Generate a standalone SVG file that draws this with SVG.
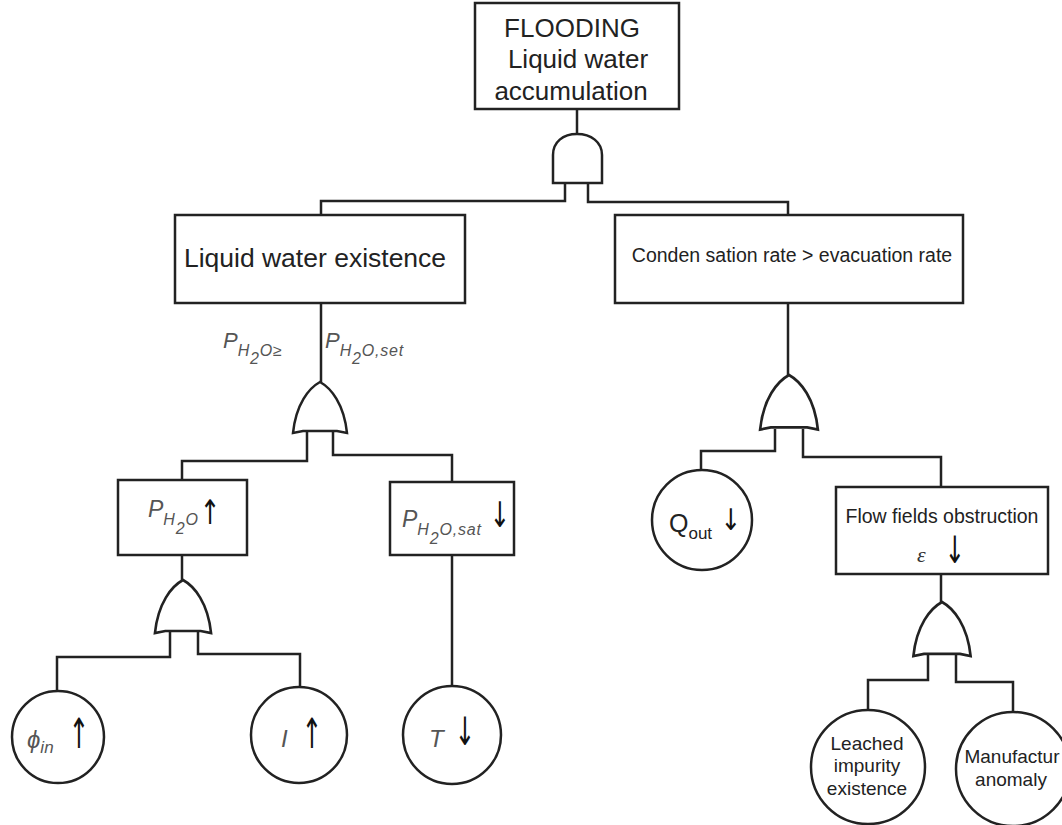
<svg xmlns="http://www.w3.org/2000/svg" xmlns:xlink="http://www.w3.org/1999/xlink" width="1062" height="825" viewBox="0 0 1062 825">
  <style>
    .ln { fill: none; stroke: #222; stroke-width: 2.5; stroke-linejoin: miter; }
    .bx { fill: #fff; stroke: #222; stroke-width: 2.5; }
    .gt { fill: #fff; stroke: #222; stroke-width: 2.5; vector-effect: non-scaling-stroke; }
    .t { font-family: "Liberation Sans", Arial, sans-serif; fill: #222; }
    .pv { font-family: "Liberation Sans", Arial, sans-serif; font-style: italic; fill: #555; }
    .sb { font-size: 16px; letter-spacing: 0.8px; }
    .ar { font-family: "DejaVu Sans", sans-serif; font-size: 27px; fill: #111; text-anchor: middle; }
    .gr { font-family: "Liberation Serif", "Times New Roman", serif; font-style: italic; fill: #333; }
  </style>
  <defs>
    <!-- OR gate, apex at origin -->
    <path id="orGate" d="M0,0 C-11,6 -24,22 -27,51 L-17,49 L17,49 L27,51 C24,22 11,6 0,0 Z"/>
  </defs>
  <rect width="1062" height="825" fill="#fff"/>

  <!-- connectors -->
  <g id="connectors" class="ln">
    <path d="M577,109 L577,134"/>
    <path d="M565,183 L565,201 L321,201 L321,215"/>
    <path d="M588,183 L588,202 L788,202 L788,215"/>
    <path d="M321,303 L321,382"/>
    <path d="M307,432 L307,461 L182,461 L182,480"/>
    <path d="M333,432 L333,455 L452,455 L452,482"/>
    <path d="M182,555 L182,580"/>
    <path d="M452,555 L452,686"/>
    <path d="M170,632 L170,657 L57,657 L57,691"/>
    <path d="M198,632 L198,654 L300,654 L300,687"/>
    <path d="M788,303 L788,375"/>
    <path d="M775,429 L775,451 L701,451 L701,470"/>
    <path d="M803,429 L803,457 L941,457 L941,487"/>
    <path d="M941,574 L941,602"/>
    <path d="M928,654 L928,680 L868,680 L868,710"/>
    <path d="M956,654 L956,682 L1013,682 L1013,712"/>
  </g>

  <!-- gates -->
  <g id="gates">
    <path id="gate-and-top" class="gt" d="M553,183 L553,155 C553,142 563,134 577,134 C591,134 602,142 602,155 L602,183 Z"/>
    <use id="gate-or-water" xlink:href="#orGate" href="#orGate" class="gt" transform="translate(320,382)"/>
    <use id="gate-or-ph2o" xlink:href="#orGate" href="#orGate" class="gt" transform="translate(183,580) scale(1.04)"/>
    <use id="gate-or-rate" xlink:href="#orGate" href="#orGate" class="gt" transform="translate(789,375) scale(1.07)"/>
    <use id="gate-or-flow" xlink:href="#orGate" href="#orGate" class="gt" transform="translate(942,602) scale(1.06)"/>
  </g>

  <!-- top event -->
  <g id="node-flooding">
    <rect class="bx" x="475" y="3" width="204" height="106"/>
    <text class="t" font-size="26" text-anchor="middle" x="572" y="37">FLOODING</text>
    <text class="t" font-size="26" text-anchor="middle" x="578" y="68">Liquid water</text>
    <text class="t" font-size="26" text-anchor="middle" x="571" y="100">accumulation</text>
  </g>

  <g id="node-liquid-water">
    <rect class="bx" x="175" y="215" width="290" height="88"/>
    <text class="t" font-size="26.5" text-anchor="middle" x="315" y="267">Liquid water existence</text>
  </g>

  <g id="node-condensation">
    <rect class="bx" x="615" y="215" width="348" height="88"/>
    <text class="t" font-size="19.5" text-anchor="middle" x="792" y="262">Conden sation rate &gt; evacuation rate</text>
  </g>

  <!-- condition labels on the OR input -->
  <g id="label-condition">
    <text class="pv" font-size="22" x="223" y="348">P<tspan class="sb" dy="8">H</tspan><tspan class="sb" font-size="15" dy="8">2</tspan><tspan class="sb" dy="-8">O≥</tspan></text>
    <text class="pv" font-size="22" x="325" y="348">P<tspan class="sb" dy="8">H</tspan><tspan class="sb" font-size="15" dy="8">2</tspan><tspan class="sb" dy="-8">O,set</tspan></text>
  </g>

  <g id="node-ph2o-up">
    <rect class="bx" x="118" y="480" width="129" height="75"/>
    <text class="pv" font-size="23" x="148" y="517">P<tspan class="sb" dy="8">H</tspan><tspan class="sb" font-size="15" dy="9">2</tspan><tspan class="sb" dy="-9">O</tspan></text>
    <text class="ar" transform="translate(210,524) scale(0.9,1.25)">↑</text>
  </g>

  <g id="node-ph2o-sat">
    <rect class="bx" x="390" y="482" width="124" height="73"/>
    <text class="pv" font-size="23" x="402" y="527">P<tspan class="sb" dy="8">H</tspan><tspan class="sb" font-size="15" dy="9">2</tspan><tspan class="sb" dy="-9">O,sat</tspan></text>
    <text class="ar" transform="translate(500,527) scale(0.9,1.3)">↓</text>
  </g>

  <g id="node-phi-in">
    <circle class="bx" cx="58" cy="737" r="46"/>
    <text class="pv" font-size="24" x="27" y="748">ϕ<tspan font-size="17" dy="5">in</tspan></text>
    <text class="ar" transform="translate(79,748) scale(0.9,1.55)">↑</text>
  </g>

  <g id="node-current">
    <circle class="bx" cx="299" cy="735" r="48"/>
    <text class="pv" font-size="24" fill="#333" x="281" y="747">I</text>
    <text class="ar" transform="translate(312,748) scale(0.9,1.55)">↑</text>
  </g>

  <g id="node-temperature">
    <circle class="bx" cx="452" cy="735" r="49"/>
    <text class="pv" font-size="24" fill="#333" x="429" y="747">T</text>
    <text class="ar" transform="translate(465,745) scale(0.9,1.45)">↓</text>
  </g>

  <g id="node-qout">
    <circle class="bx" cx="702" cy="520" r="50"/>
    <text class="t" font-size="25" x="669" y="532">Q<tspan font-size="17" dy="7">out</tspan></text>
    <text class="ar" transform="translate(731,530) scale(0.9,1.1)">↓</text>
  </g>

  <g id="node-flow-fields">
    <rect class="bx" x="836" y="487" width="212" height="87"/>
    <text class="t" font-size="19.5" text-anchor="middle" x="942" y="523">Flow fields obstruction</text>
    <text class="gr" font-size="22" x="917" y="562">ε</text>
    <text class="ar" transform="translate(955,563) scale(0.9,1.4)">↓</text>
  </g>

  <g id="node-leached">
    <circle class="bx" cx="868" cy="767" r="57"/>
    <text class="t" font-size="19" text-anchor="middle" x="867" y="750">Leached</text>
    <text class="t" font-size="19" text-anchor="middle" x="867" y="772">impurity</text>
    <text class="t" font-size="19" text-anchor="middle" x="867" y="795">existence</text>
  </g>

  <g id="node-manufacturing">
    <circle class="bx" cx="1013" cy="769" r="57"/>
    <text class="t" font-size="19" text-anchor="middle" x="1012" y="763">Manufactur</text>
    <text class="t" font-size="19" text-anchor="middle" x="1011" y="786">anomaly</text>
  </g>
</svg>
